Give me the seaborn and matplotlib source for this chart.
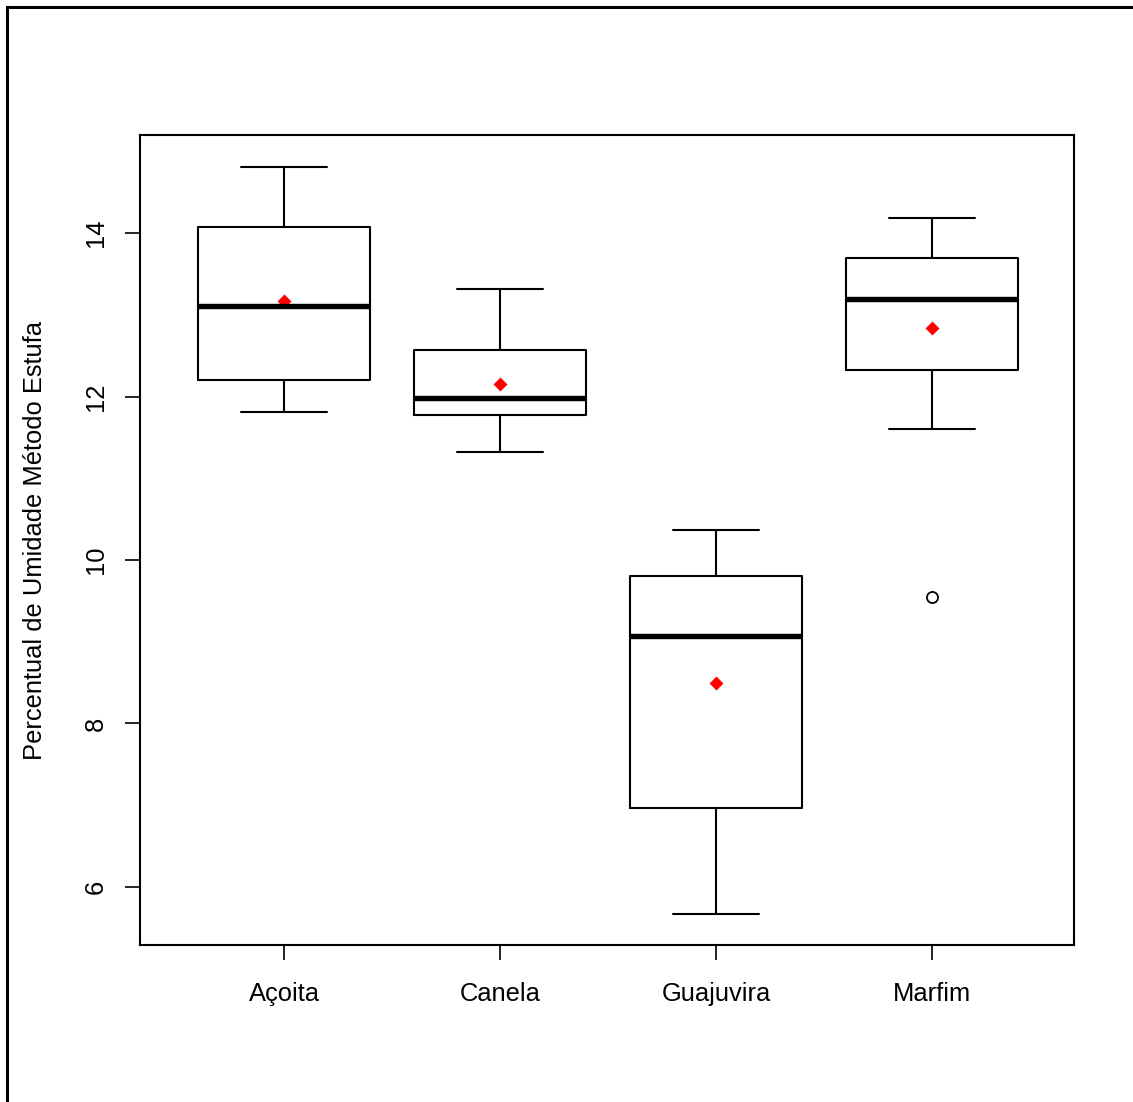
import numpy as np
import pandas as pd
import matplotlib
matplotlib.use("Agg")
import matplotlib.pyplot as plt
import seaborn as sns

# moisture readings per wood species
especies = ["Açoita", "Canela", "Guajuvira", "Marfim"]
acoita = [11.81, 12.00, 12.20, 12.60, 13.11, 13.50, 14.07, 14.43, 14.81]
canela = [11.32, 11.60, 11.77, 11.85, 11.98, 12.10, 12.57, 12.85, 13.31]
guajuvira = [5.67, 6.60, 6.97, 8.40, 9.07, 9.50, 9.80, 10.12, 10.37]
marfim = [9.55, 11.60, 12.32, 13.19, 13.19, 13.69, 13.69, 14.18, 14.18]
yticks = [6, 8, 10, 12, 14]

df = pd.DataFrame({
    "especie": np.repeat(especies, 9),
    "umidade": acoita + canela + guajuvira + marfim,
})

sns.set_style("ticks")
plt.rcParams["font.family"] = ["Liberation Sans", "DejaVu Sans"]

fig = plt.figure(figsize=(11.33, 11.02), dpi=100)
ax = fig.add_axes([140 / 1133, 1 - 945 / 1102, (1074 - 140) / 1133, (945 - 135) / 1102])

sns.boxplot(data=df, x="especie", y="umidade", order=especies, ax=ax,
            width=0.8, fill=False, color="black", linewidth=1.5,
            whis=1.5, capwidths=0.4,
            medianprops=dict(linewidth=3.9, color="black"),
            flierprops=dict(marker="o", markersize=8, markerfacecolor="none",
                            markeredgecolor="black", markeredgewidth=1.3))
sns.pointplot(data=df, x="especie", y="umidade", order=especies, ax=ax,
              estimator="mean", errorbar=None, linestyle="none",
              markers="D", color="red", markersize=5.5)

ax.set_xlim(-0.667, 3.657)
ax.set_ylim(5.29, 15.2)
ax.set_yticks(yticks)
ax.set_yticklabels([str(v) for v in yticks], rotation=90, va="center")
ax.tick_params(axis="both", labelsize=18.4, length=11, width=1.2, direction="out", colors="black")
ax.tick_params(axis="x", pad=15.5)
ax.tick_params(axis="y", pad=12)
ax.set_xlabel("")
ax.set_ylabel("Percentual de Umidade Método Estufa", fontsize=18.4, labelpad=27, color="black")
for s in ax.spines.values():
    s.set_visible(True)
    s.set_linewidth(1.5)
    s.set_color("black")

# outer device border (top and left visible)
fig.patches.append(plt.Rectangle((7 / 1133, -0.05), 1.2, 1 - 7 / 1102 + 0.05,
                                 transform=fig.transFigure, fill=False,
                                 edgecolor="black", linewidth=2.2))

fig.savefig("out.png", dpi=100)
